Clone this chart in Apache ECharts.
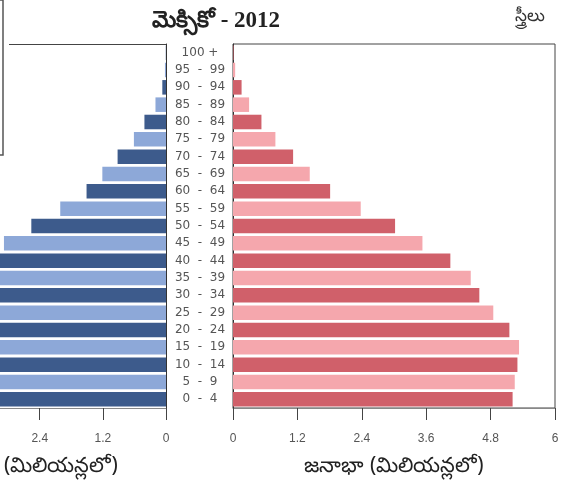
<!DOCTYPE html>
<html>
<head>
<meta charset="utf-8">
<title>మెక్సికో - 2012</title>
<script src="https://cdn.jsdelivr.net/npm/echarts@6/dist/echarts.min.js"></script>
<style>
  html, body { margin: 0; padding: 0; background: #fff; overflow: hidden; }
  #frame { position: relative; width: 570px; height: 491px; overflow: hidden; }
  /* the male half runs off the left edge of the picture, so the canvas is wider and shifted */
  #chart { position: absolute; left: -156px; top: 0; width: 726px; height: 491px; }
</style>
</head>
<body>
<div id="frame"><div id="chart"></div></div>
<script>
// age groups, bottom to top
const ageGroups = ['0 - 4', '5 - 9', '10 - 14', '15 - 19', '20 - 24', '25 - 29', '30 - 34',
  '35 - 39', '40 - 44', '45 - 49', '50 - 54', '55 - 59', '60 - 64', '65 - 69', '70 - 74',
  '75 - 79', '80 - 84', '85 - 89', '90 - 94', '95 - 99', '100 +'];
// population in millions
const maleValues = [5.37, 5.42, 5.45, 5.35, 4.85, 4.4, 4.15, 4.0, 3.6, 3.08, 2.56, 2.01,
  1.51, 1.21, 0.92, 0.61, 0.41, 0.2, 0.07, 0.02, 0.004];
const femaleValues = [5.21, 5.25, 5.3, 5.33, 5.15, 4.85, 4.59, 4.43, 4.05, 3.53, 3.02, 2.38,
  1.81, 1.43, 1.12, 0.79, 0.53, 0.3, 0.16, 0.04, 0.01];
const popTicks = [0, 1.2, 2.4, 3.6, 4.8, 6];

const chartTitle = 'మెక్సికో - 2012';
const axisName = 'జనాభా (మిలియన్లలో)';
const femaleLabel = 'స్త్రీలు';

const maleColors = ['#3d5b8c', '#8da8d8'];
const femaleColors = ['#d0606a', '#f5a7ad'];

const shift = 156; // canvas x = picture x + shift

const chart = echarts.init(document.getElementById('chart'));

const xAxisCommon = {
  type: 'value',
  min: 0,
  max: 6,
  interval: 1.2,
  splitLine: { show: false },
  axisLine: { show: true, lineStyle: { color: '#888', width: 1 } },
  axisTick: { show: true, length: 12, lineStyle: { color: '#444' } },
  axisLabel: {
    color: '#555', fontSize: 12, margin: 25,
    formatter: v => popTicks.indexOf(+v.toFixed(1)) >= 0 ? String(+v.toFixed(1)) : ''
  },
  name: axisName,
  nameLocation: 'middle',
  nameGap: 48,
  nameTextStyle: { color: '#222', fontSize: 21, fontFamily: 'Noto Sans' }
};

chart.setOption({
  animation: false,
  backgroundColor: '#fff',
  title: {
    text: chartTitle,
    left: 211 + shift,
    top: 5,
    textAlign: 'center',
    textStyle: { fontFamily: 'Liberation Serif', fontWeight: 'bold', fontSize: 23, color: '#222' }
  },
  grid: [
    { left: 0, width: 166 + shift, top: 44, bottom: 83, show: false },
    { left: 233 + shift, right: 15, top: 44, bottom: 83, show: true, borderColor: '#444', borderWidth: 1 }
  ],
  xAxis: [
    Object.assign({}, xAxisCommon, {
      gridIndex: 0, inverse: true,
      nameTextStyle: Object.assign({}, xAxisCommon.nameTextStyle, { padding: [0, 0, 0, 40] })
    }),
    Object.assign({}, xAxisCommon, { gridIndex: 1 })
  ],
  yAxis: [
    {
      type: 'category', gridIndex: 0, data: ageGroups, position: 'right',
      axisLine: { show: true, lineStyle: { color: '#333' } },
      axisTick: { show: false },
      axisLabel: { show: false }
    },
    {
      type: 'category', gridIndex: 1, data: ageGroups, position: 'left',
      axisLine: { show: true, lineStyle: { color: '#333' } },
      axisTick: { show: false },
      axisLabel: {
        color: '#555', fontSize: 12, fontFamily: 'DejaVu Sans', align: 'center', margin: 33,
        formatter: v => v.replace(' - ', '  -  ')
      }
    }
  ],
  series: [
    {
      type: 'bar', xAxisIndex: 0, yAxisIndex: 0, data: maleValues,
      barCategoryGap: '16%',
      itemStyle: { color: p => maleColors[p.dataIndex % 2] }
    },
    {
      type: 'bar', xAxisIndex: 1, yAxisIndex: 1, data: femaleValues,
      barCategoryGap: '16%',
      itemStyle: { color: p => femaleColors[p.dataIndex % 2] }
    }
  ],
  graphic: [
    { type: 'rect', shape: { x: 0, y: 0, width: 3 + shift, height: 155 }, style: { fill: '#fff', stroke: '#555', lineWidth: 1.5 } },
    { type: 'line', shape: { x1: 9 + shift, y1: 44.5, x2: 166 + shift, y2: 44.5 }, style: { stroke: '#444', lineWidth: 1 } },
    {
      type: 'text', left: 515 + shift, top: 8,
      style: { text: femaleLabel, fontSize: 17, fill: '#333', fontFamily: 'Noto Sans' }
    }
  ]
});
</script>
</body>
</html>
